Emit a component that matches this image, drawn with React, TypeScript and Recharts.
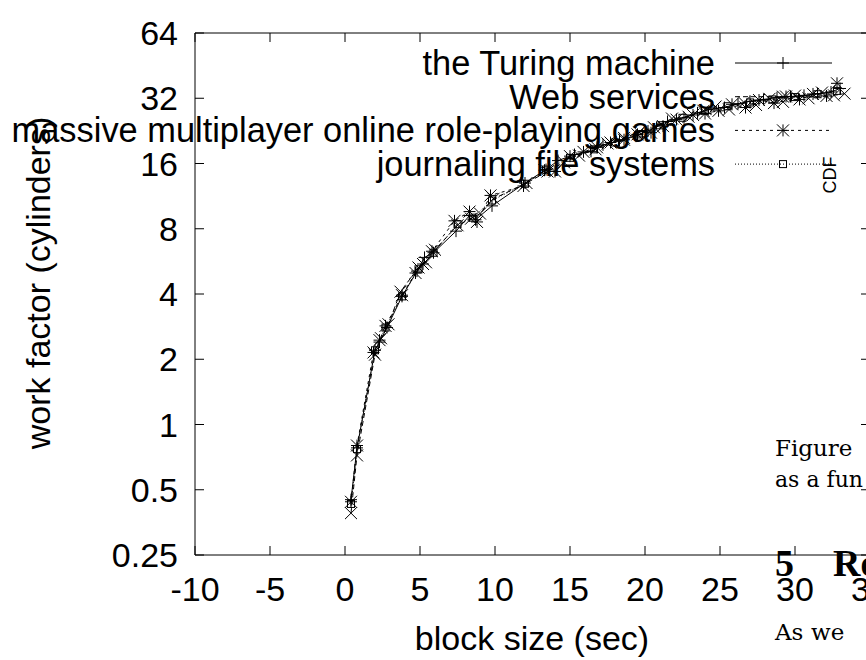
import React from "react";
import { LineChart, Line, XAxis, YAxis, Legend } from "recharts";

// [block size (sec), work factor (cylinders)]
const TURING: [number, number][] = [
  [0.4, 0.45], [0.8, 0.78], [2.0, 2.2], [2.3, 2.4], [2.8, 2.8], [3.8, 3.9],
  [4.8, 5.1], [5.3, 5.9], [5.9, 6.2], [7.4, 7.8], [8.3, 9.2], [8.7, 8.8],
  [9.8, 10.2], [12.0, 13.0], [13.4, 15.0], [14.2, 16.5], [15.3, 17.6],
  [16.4, 18.2], [17.2, 19.5], [18.3, 20.4], [19.4, 21.4], [20.2, 22.6],
  [21.5, 25.0], [22.6, 26.0], [23.5, 27.4], [24.4, 28.5], [25.3, 29.0],
  [26.2, 30.2], [27.0, 31.0], [27.9, 31.6], [28.8, 32.2], [29.7, 32.6],
  [30.6, 33.0], [31.5, 33.6], [32.4, 34.2], [33.0, 35.5],
];

const WEB: [number, number][] = [
  [0.4, 0.39], [0.8, 0.72], [2.0, 2.1], [2.4, 2.5], [2.9, 2.9], [3.7, 4.1],
  [4.9, 5.3], [5.4, 5.6], [6.0, 6.4], [7.5, 8.3], [8.4, 8.9], [9.0, 9.4],
  [9.9, 11.0], [12.1, 13.0], [13.5, 14.7], [14.6, 16.2], [15.6, 17.4],
  [16.7, 18.6], [17.5, 19.8], [18.6, 21.0], [19.6, 22.3], [20.6, 23.5],
  [21.8, 25.8], [22.9, 26.3], [23.9, 28.0], [24.7, 29.3], [25.6, 28.4],
  [26.6, 30.6], [27.4, 29.8], [28.3, 31.8], [29.2, 30.8], [30.0, 32.9],
  [30.9, 32.0], [31.8, 34.0], [32.6, 33.0], [33.3, 33.6],
];

const MMORPG: [number, number][] = [
  [0.4, 0.44], [0.8, 0.8], [1.9, 2.15], [2.3, 2.45], [2.7, 2.85], [3.8, 3.95],
  [4.7, 5.0], [5.2, 5.5], [5.8, 6.3], [7.3, 8.7], [8.3, 9.6], [8.8, 8.6],
  [9.7, 11.4], [11.9, 12.6], [13.3, 14.9], [14.0, 14.7], [15.0, 17.3],
  [15.9, 18.1], [16.8, 19.0], [17.7, 20.0], [18.6, 20.6], [19.5, 21.8],
  [20.4, 22.2], [21.2, 23.8], [22.1, 25.5], [23.2, 26.8], [24.0, 27.2],
  [24.9, 28.0], [25.8, 30.0], [26.7, 29.0], [27.6, 31.4], [28.6, 30.4],
  [29.4, 32.6], [30.3, 31.6], [31.2, 33.5], [32.1, 32.8], [32.8, 37.5],
];

const JOURNALING: [number, number][] = [
  [0.4, 0.43], [0.8, 0.77], [2.0, 2.2], [2.7, 2.8], [3.8, 3.9], [4.9, 5.2],
  [5.9, 6.2], [7.5, 8.4], [8.5, 9.0], [9.8, 10.8], [12.0, 12.9], [13.4, 15.0],
  [15.0, 17.0], [16.6, 18.6], [18.0, 20.0], [19.6, 21.8], [21.0, 24.0],
  [22.5, 26.0], [24.0, 28.0], [25.5, 29.4], [27.0, 30.6], [28.5, 31.6],
  [30.0, 32.4], [31.5, 33.4], [32.8, 34.6],
];

const X_TICKS = [-10, -5, 0, 5, 10, 15, 20, 25, 30, 35];
const Y_TICKS = [0.25, 0.5, 1, 2, 4, 8, 16, 32, 64];

const FONT = "'Liberation Sans', Arial, sans-serif";
const SERIF = "'DejaVu Serif', 'Liberation Serif', serif";
const BOLD_SERIF = "'Liberation Serif', serif";
const FS = 34;
const TICK_LEN = 9;

type Marker = "plus" | "cross" | "star" | "square";

function drawMarker(kind: Marker, cx: number, cy: number, key?: React.Key) {
  const s = 6;
  const plus = `M${cx - s},${cy}H${cx + s}M${cx},${cy - s}V${cy + s}`;
  const cross = `M${cx - s},${cy - s}L${cx + s},${cy + s}M${cx - s},${cy + s}L${cx + s},${cy - s}`;
  if (kind === "square") {
    return <rect key={key} x={cx - 3.5} y={cy - 3.5} width={7} height={7} fill="none" stroke="#000" strokeWidth={1} />;
  }
  const d = kind === "plus" ? plus : kind === "cross" ? cross : plus + cross;
  return <path key={key} d={d} stroke="#000" strokeWidth={1} fill="none" />;
}

const SERIES = [
  { name: "the Turing machine", data: TURING, dash: undefined, marker: "plus" as Marker },
  { name: "Web services", data: WEB, dash: "5 3", marker: "cross" as Marker },
  { name: "massive multiplayer online role-playing games", data: MMORPG, dash: "3 4", marker: "star" as Marker },
  { name: "journaling file systems", data: JOURNALING, dash: "1 2", marker: "square" as Marker },
];

const toRows = (pts: [number, number][]) => pts.map(([x, y]) => ({ x, y }));

const BottomTick = (p: any) => (
  <g>
    <line x1={p.x} y1={p.y} x2={p.x} y2={p.y - TICK_LEN} stroke="#000" />
    <text x={p.x} y={p.y + 46} textAnchor="middle" fontSize={FS} fontFamily={FONT} fill="#000">
      {p.payload.value}
    </text>
  </g>
);
const TopTick = (p: any) => (
  <line x1={p.x} y1={p.y} x2={p.x} y2={p.y + TICK_LEN} stroke="#000" />
);
const LeftTick = (p: any) => (
  <g>
    <line x1={p.x} y1={p.y} x2={p.x + TICK_LEN} y2={p.y} stroke="#000" />
    <text x={p.x - 17} y={p.y + 12} textAnchor="end" fontSize={FS} fontFamily={FONT} fill="#000">
      {p.payload.value}
    </text>
  </g>
);
const RightTick = (p: any) => (
  <line x1={p.x} y1={p.y} x2={p.x - TICK_LEN} y2={p.y} stroke="#000" />
);

function KeyBox() {
  return (
    <svg width={866} height={190} style={{ display: "block" }}>
      {SERIES.map((s, i) => {
        const cy = 63 + i * 33.7;
        return (
          <g key={s.name}>
            <text x={715} y={cy + 12} textAnchor="end" fontSize={34.4} fontFamily={FONT} fill="#000">
              {s.name}
            </text>
            <line x1={735} y1={cy} x2={832} y2={cy} stroke="#000" strokeDasharray={s.dash} />
            {drawMarker(s.marker, 783, cy)}
          </g>
        );
      })}
    </svg>
  );
}

export default function App() {
  return (
    <div style={{ position: "absolute", left: 0, top: 0, width: 866, height: 660, overflow: "hidden", background: "#fff" }}>
      <LineChart width={880} height={660} margin={{ top: 32, right: 9, bottom: 104, left: 194 }}>
        <XAxis xAxisId="b" type="number" dataKey="x" domain={[-10, 35]} ticks={X_TICKS} interval={0}
          height={1} tickSize={0} tickMargin={0} allowDataOverflow axisLine={{ stroke: "#000" }} tick={<BottomTick />} />
        <XAxis xAxisId="t" orientation="top" type="number" dataKey="x" domain={[-10, 35]} ticks={X_TICKS} interval={0}
          height={1} tickSize={0} tickMargin={0} allowDataOverflow axisLine={{ stroke: "#000" }} tick={<TopTick />} />
        <YAxis yAxisId="l" type="number" scale="log" domain={[0.25, 64]} ticks={Y_TICKS} interval={0}
          width={1} tickSize={0} tickMargin={0} allowDataOverflow axisLine={{ stroke: "#000" }} tick={<LeftTick />} />
        <YAxis yAxisId="r" orientation="right" type="number" scale="log" domain={[0.25, 64]} ticks={Y_TICKS} interval={0}
          width={1} tickSize={0} tickMargin={0} allowDataOverflow axisLine={{ stroke: "#000" }} tick={<RightTick />} />
        <Legend layout="horizontal" verticalAlign="middle" wrapperStyle={{ top: 0, left: 0, width: 866 }} content={() => <KeyBox />} />
        {SERIES.map((s) => (
          <Line
            key={s.name}
            xAxisId="b"
            yAxisId="l"
            data={toRows(s.data)}
            dataKey="y"
            name={s.name}
            type="linear"
            stroke="#000"
            strokeWidth={1}
            strokeDasharray={s.dash}
            dot={(p: any) => drawMarker(s.marker, p.cx, p.cy, p.index)}
            activeDot={false}
            isAnimationActive={false}
          />
        ))}
      </LineChart>
      <svg width={866} height={660} style={{ position: "absolute", left: 0, top: 0, pointerEvents: "none" }}>
        <text transform="translate(50,283) rotate(-90)" textAnchor="middle" fontSize={FS} fontFamily={FONT} fill="#000">
          work factor (cylinders)
        </text>
        <text x={532} y={650} textAnchor="middle" fontSize={FS} fontFamily={FONT} fill="#000">
          block size (sec)
        </text>
        <text transform="translate(836,175) rotate(-90)" textAnchor="middle" fontSize={18} fontFamily={FONT} fill="#000">
          CDF
        </text>
        <text x={775} y={456} fontSize={23} fontFamily={SERIF} fill="#000">Figure</text>
        <text x={775} y={487} fontSize={22} fontFamily={SERIF} fill="#000">as a fun</text>
        <text x={775} y={576} fontSize={38} fontWeight="bold" fontFamily={BOLD_SERIF} fill="#000">5</text>
        <text x={833} y={576} fontSize={38} fontWeight="bold" fontFamily={BOLD_SERIF} fill="#000">Re</text>
        <text x={775} y={640} fontSize={23} fontFamily={SERIF} fill="#000">As</text>
        <text x={811} y={640} fontSize={23} fontFamily={SERIF} fill="#000">we</text>
      </svg>
    </div>
  );
}
